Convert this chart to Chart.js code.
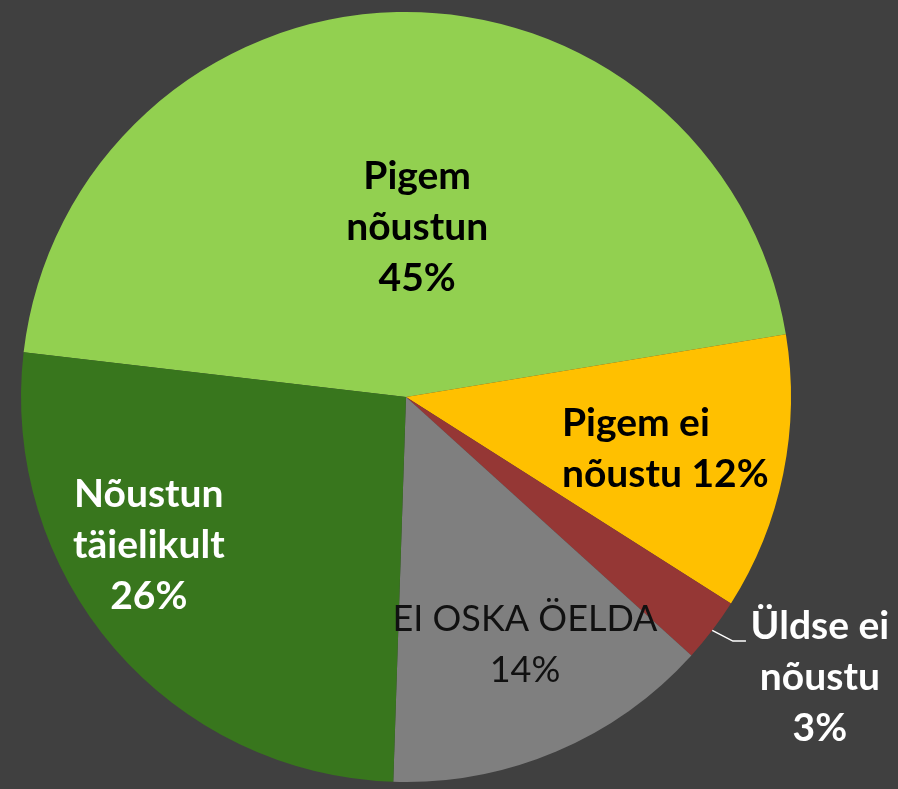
<!DOCTYPE html>
<html>
<head>
<meta charset="utf-8">
<script src="https://cdn.jsdelivr.net/npm/chart.js"></script>
<style>
  body { margin: 0; background: #404040; }
  canvas { display: block; }
</style>
</head>
<body>
<canvas id="graficoPizza" width="898" height="789"></canvas>
<script>
// dados
const categorias = ['Pigem nõustun', 'Pigem ei nõustu', 'Üldse ei nõustu', 'EI OSKA ÖELDA', 'Nõustun täielikult']
const valores = [45.5, 11.6, 2.7, 13.8, 26.3]
const percentuais = ['45%', '12%', '3%', '14%', '26%']
const cores = ['#92D050', '#FFC000', '#953735', '#7F7F7F', '#38761D']

// linhas de cada rotulo (quebra igual ao original)
const linhasRotulos = [
    ['Pigem', 'nõustun', percentuais[0]],
    ['Pigem ei', 'nõustu ' + percentuais[1]],
    ['Üldse ei', 'nõustu', percentuais[2]],
    ['EI OSKA ÖELDA', percentuais[3]],
    ['Nõustun', 'täielikult', percentuais[4]]
]

// posicao dos rotulos em fracao do raio, a partir do centro
const estiloRotulos = [
    { x: 0.029, y: -0.540, align: 'center', cor: '#000', peso: 'bold' },
    { x: 0.405, y: 0.101, align: 'left', cor: '#000', peso: 'bold' },
    { x: 1.075, y: 0.629, align: 'center', cor: '#fff', peso: 'bold', guia: [[0.849, 0.634], [0.883, 0.634]] },
    { x: 0.309, y: 0.608, align: 'center', cor: '#111', peso: 'normal' },
    { x: -0.668, y: 0.286, align: 'center', cor: '#fff', peso: 'bold' }
]

const pluginRotulos = {
    id: 'rotulos',
    afterDatasetsDraw(chart) {
        const ctx = chart.ctx
        const arcos = chart.getDatasetMeta(0).data
        arcos.forEach((arco, i) => {
            const p = arco.getProps(['x', 'y', 'startAngle', 'endAngle', 'outerRadius'], true)
            const r = p.outerRadius
            const est = estiloRotulos[i]
            const alturaLinha = r * 0.1325

            ctx.save()
            if (est.guia) {
                const meio = (p.startAngle + p.endAngle) / 2
                ctx.strokeStyle = '#fff'
                ctx.lineWidth = 1.5
                ctx.beginPath()
                ctx.moveTo(p.x + Math.cos(meio) * r, p.y + Math.sin(meio) * r)
                est.guia.forEach(pt => ctx.lineTo(p.x + pt[0] * r, p.y + pt[1] * r))
                ctx.stroke()
            }
            ctx.fillStyle = est.cor
            ctx.textAlign = est.align
            ctx.textBaseline = 'alphabetic'
            ctx.font = est.peso + (est.peso == 'bold' ? ' 39px' : ' 36px') + ' Lato'
            linhasRotulos[i].forEach((linha, j) => {
                ctx.fillText(linha, p.x + est.x * r, p.y + est.y * r + j * alturaLinha)
            })
            ctx.restore()
        })
    }
}

new Chart(document.getElementById('graficoPizza'), {
    type: 'pie',
    data: {
        labels: categorias,
        datasets: [{
            data: valores,
            backgroundColor: cores,
            borderWidth: 0
        }]
    },
    options: {
        responsive: false,
        animation: false,
        rotation: -83.33,
        layout: {
            padding: { top: 12, bottom: 7, left: 0, right: 86 }
        },
        plugins: {
            legend: { display: false },
            tooltip: { enabled: false }
        }
    },
    plugins: [pluginRotulos]
})
</script>
</body>
</html>
